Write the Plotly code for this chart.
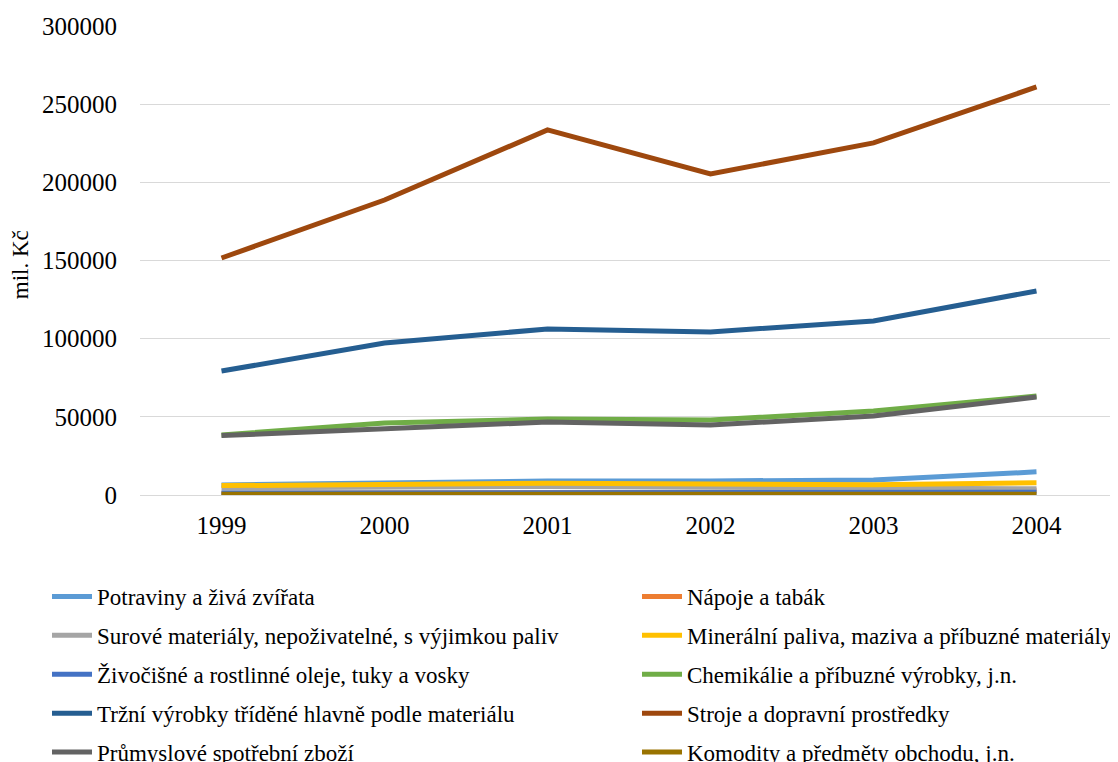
import plotly.graph_objects as go

years = ["1999", "2000", "2001", "2002", "2003", "2004"]

potraviny = [6400, 7700, 9000, 9000, 9600, 14800]
napoje = [1000, 1200, 1300, 1400, 2000, 3000]
surove = [4500, 5000, 5500, 5000, 4500, 4000]
mineralni = [6000, 6500, 7500, 7000, 6500, 7800]
zivocisne = [1200, 1300, 1500, 1500, 1800, 1800]
chemikalie = [38400, 46000, 48600, 48000, 53700, 63300]
trzni = [79300, 97200, 106200, 104300, 111300, 130500]
stroje = [151600, 188700, 233500, 205400, 225200, 261000]
prumyslove = [38000, 42200, 46700, 44800, 50500, 62700]
komodity = [400, 400, 400, 400, 500, 500]

series = [
    ("Potraviny a živá zvířata", potraviny, "#5B9BD5", "legend"),
    ("Nápoje a tabák", napoje, "#ED7D31", "legend2"),
    ("Surové materiály, nepoživatelné, s výjimkou paliv", surove, "#A5A5A5", "legend"),
    ("Minerální paliva, maziva a příbuzné materiály", mineralni, "#FFC000", "legend2"),
    ("Živočišné a rostlinné oleje, tuky a vosky", zivocisne, "#4472C4", "legend"),
    ("Chemikálie a příbuzné výrobky, j.n.", chemikalie, "#70AD47", "legend2"),
    ("Tržní výrobky tříděné hlavně podle materiálu", trzni, "#255E91", "legend"),
    ("Stroje a dopravní prostředky", stroje, "#9E480E", "legend2"),
    ("Průmyslové spotřební zboží", prumyslove, "#636363", "legend"),
    ("Komodity a předměty obchodu, j.n.", komodity, "#997300", "legend2"),
]

fig = go.Figure()
for i, (name, vals, color, leg) in enumerate(series):
    fig.add_trace(go.Scatter(
        x=years, y=vals, mode="lines", name=name,
        line=dict(color=color, width=5),
        legend=leg, legendgroup=f"g{i}",
    ))

font_family = "Liberation Serif, Times New Roman, serif"
W, H = 1110, 754
legend_common = dict(
    orientation="v",
    xref="container", yref="container",
    yanchor="top", xanchor="left",
    font=dict(family=font_family, size=23, color="#000000"),
    tracegroupgap=6,
    bgcolor="rgba(0,0,0,0)",
    itemwidth=40,
)

fig.update_layout(
    width=W, height=H,
    paper_bgcolor="white", plot_bgcolor="white",
    margin=dict(l=132, r=0, t=18, b=267, autoexpand=False),
    font=dict(family=font_family, size=25, color="#000000"),
    xaxis=dict(
        type="category", range=[-0.5, 5.5],
        showgrid=False, zeroline=False, showline=False,
        ticks="", ticklabelstandoff=13, tickangle=0,
        tickfont=dict(family=font_family, size=25, color="#000000"),
    ),
    yaxis=dict(
        range=[0, 300000], tickvals=[0, 50000, 100000, 150000, 200000, 250000, 300000],
        ticktext=["0", "50000", "100000", "150000", "200000", "250000", "300000"],
        showgrid=True, gridcolor="#D9D9D9", gridwidth=1,
        zeroline=True, zerolinecolor="#D9D9D9", zerolinewidth=1,
        showline=False, ticks="", ticklabelstandoff=22,
        tickfont=dict(family=font_family, size=25, color="#000000"),
    ),
    annotations=[dict(
        text="mil. Kč", textangle=-90, showarrow=False,
        xref="paper", yref="paper", x=(12 - 132) / 978, y=0.49,
        xanchor="center", yanchor="middle",
        font=dict(family=font_family, size=23, color="#000000"),
    )],
    legend=dict(x=39/W, y=1-567/H, **legend_common),
    legend2=dict(x=629/W, y=1-567/H, **legend_common),
)

fig.write_html("out.html")
